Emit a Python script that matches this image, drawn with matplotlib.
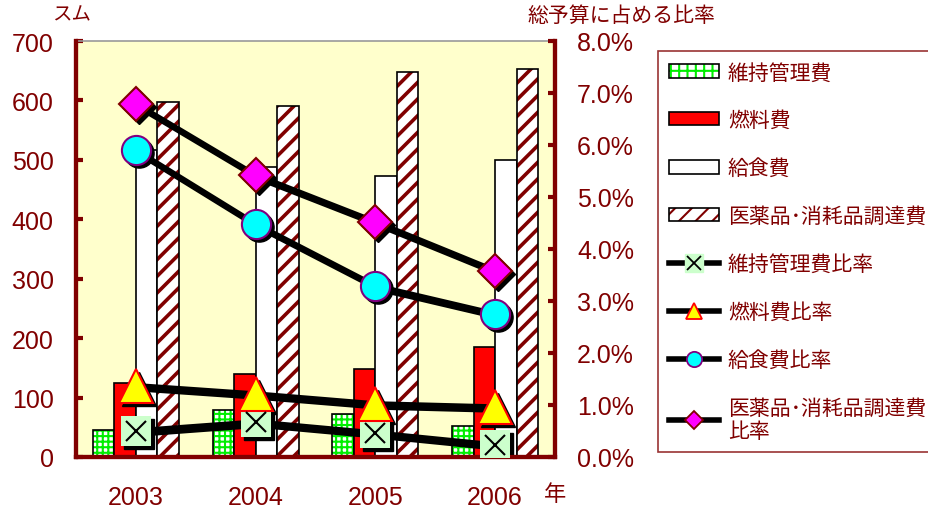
import matplotlib
matplotlib.use('Agg')
import matplotlib.pyplot as plt
import matplotlib.transforms as mtransforms
from matplotlib.lines import Line2D
from matplotlib.patches import Patch
import numpy as np

plt.rcParams['font.family'] = ['Liberation Sans', 'Noto Sans CJK JP', 'DejaVu Sans']

DARKRED = '#800000'

years = ['2003', '2004', '2005', '2006']
# 支出 (スム)
maint_cost = [45, 79, 72, 52]       # 維持管理費
fuel_cost = [125, 140, 148, 185]    # 燃料費
meal_cost = [517, 488, 473, 500]    # 給食費
med_cost = [598, 591, 648, 653]     # 医薬品・消耗品調達費
# 総予算に占める比率 (%)
maint_ratio = [0.50, 0.67, 0.46, 0.23]
fuel_ratio = [1.37, 1.21, 1.02, 0.96]
meal_ratio = [5.90, 4.48, 3.29, 2.75]
med_ratio = [6.79, 5.42, 4.52, 3.58]


def hatch_lw(patches, lw):
    for p in patches:
        if hasattr(p, 'set_hatch_linewidth'):
            p.set_hatch_linewidth(lw)


fig = plt.figure(figsize=(9.29, 5.10), dpi=100)
ax = fig.add_axes([76 / 929, 52 / 510, 479 / 929, 416 / 510])
ax.set_facecolor('#FFFFCC')
x = np.arange(len(years))
w = 0.18

# 棒グラフ
plt.rcParams['hatch.linewidth'] = 1.5
b = ax.bar(x - 1.5 * w, maint_cost, w, color='white', edgecolor='#00EE00', hatch='+++', linewidth=0)
hatch_lw(b, 1.5)
ax.bar(x - 1.5 * w, maint_cost, w, fill=False, edgecolor='black', linewidth=1.2)
ax.bar(x - 0.5 * w, fuel_cost, w, color='#FF0000', edgecolor='black', linewidth=1.2)
ax.bar(x + 0.5 * w, meal_cost, w, color='white', edgecolor='black', linewidth=1.2)
b = ax.bar(x + 1.5 * w, med_cost, w, color='white', edgecolor=DARKRED, hatch='//', linewidth=0)
hatch_lw(b, 2.6)
ax.bar(x + 1.5 * w, med_cost, w, fill=False, edgecolor='black', linewidth=1.2)

ax.set_xlim(-0.5, 3.5)
ax.set_ylim(0, 700)
ax.set_yticks(range(0, 701, 100))
ax.set_xticks(x)
ax.set_xticklabels(years)
ax.tick_params(axis='y', direction='in', length=5, width=3, color=DARKRED,
               labelcolor=DARKRED, labelsize=18, pad=16)
ax.tick_params(axis='x', length=0, labelcolor=DARKRED, labelsize=18, pad=20)
for s in ['left', 'bottom', 'right']:
    ax.spines[s].set_color(DARKRED)
    ax.spines[s].set_linewidth(3)
ax.spines['top'].set_color('#999999')
ax.spines['top'].set_linewidth(1.2)

# 比率の折れ線
ax2 = ax.twinx()
ax2.set_ylim(0, 8)
ax2.set_yticks(range(0, 9))
ax2.set_yticklabels(['%.1f%%' % v for v in range(0, 9)])
ax2.tick_params(axis='y', direction='in', length=5, width=3, color=DARKRED,
                labelcolor=DARKRED, labelsize=18, pad=16)
for s in ['left', 'bottom', 'right']:
    ax2.spines[s].set_color(DARKRED)
    ax2.spines[s].set_linewidth(3)
ax2.spines['top'].set_visible(False)

shadow = mtransforms.offset_copy(ax2.transData, fig=fig, x=3, y=-3, units='dots')
series = [
    (maint_ratio, 's', 21, '#CCFFCC', 'none'),
    (fuel_ratio, '^', 25, '#FFFF00', '#FF0000'),
    (meal_ratio, 'o', 21, '#00FFFF', '#800080'),
    (med_ratio, 'D', 17.5, '#FF00FF', DARKRED),
]
for vals, mk, size, fc, ec in series:
    ax2.plot(x, vals, color='black', lw=4, marker=mk, ms=size, mfc='black',
             mec='black', transform=shadow, zorder=2)
    ax2.plot(x, vals, color='black', lw=4, marker=mk, ms=size, mfc=fc,
             mec=ec, mew=1.5, zorder=3)
ax2.plot(x, maint_ratio, ls='none', marker='x', ms=15, mec='black', mew=1.5, zorder=4)

# 凡例
green_h = (Patch(facecolor='white', edgecolor='#00EE00', hatch='++', linewidth=0),
           Patch(fill=False, edgecolor='black', linewidth=1.2))
stripe_h = (Patch(facecolor='white', edgecolor=DARKRED, hatch='//', linewidth=0),
            Patch(fill=False, edgecolor='black', linewidth=1.2))
handles = [
    green_h,
    Patch(facecolor='#FF0000', edgecolor='black', linewidth=1.2),
    Patch(facecolor='white', edgecolor='black', linewidth=1.2),
    stripe_h,
    (Line2D([], [], color='black', lw=4, marker='s', ms=13, mfc='#CCFFCC', mec='#CCFFCC'),
     Line2D([], [], ls='none', marker='x', ms=10, mec='black', mew=1.3)),
    Line2D([], [], color='black', lw=4, marker='^', ms=12, mfc='#FFFF00', mec='#FF0000', mew=1.3),
    Line2D([], [], color='black', lw=4, marker='o', ms=11, mfc='#00FFFF', mec='#800080', mew=1.3),
    Line2D([], [], color='black', lw=4, marker='D', ms=9, mfc='#FF00FF', mec=DARKRED, mew=1.3),
]
labels = ['維持管理費', '燃料費', '給食費', '医薬品･消耗品調達費', '維持管理費比率',
          '燃料費比率', '給食費比率', '医薬品･消耗品調達費\n比率']
leg = fig.legend(handles, labels, loc='upper left', bbox_to_anchor=(658 / 929, 1 - 52 / 510),
                 fontsize=15, frameon=True, fancybox=False, edgecolor=DARKRED,
                 handlelength=2.4, handleheight=0.6, handletextpad=0.4,
                 labelspacing=1.35, borderpad=0.55, borderaxespad=0)
leg.get_frame().set_linewidth(1.2)
for t in leg.get_texts():
    t.set_color(DARKRED)

fig.text(72 / 929, 1 - 16 / 510, 'スム', color=DARKRED, fontsize=14, ha='center', va='center')
fig.text(527 / 929, 1 - 16 / 510, '総予算に占める比率', color=DARKRED, fontsize=15,
         ha='left', va='center')
fig.text(555 / 929, 1 - 496 / 510, '年', color=DARKRED, fontsize=16, ha='center', va='center')

fig.savefig('out.png', dpi=100)
